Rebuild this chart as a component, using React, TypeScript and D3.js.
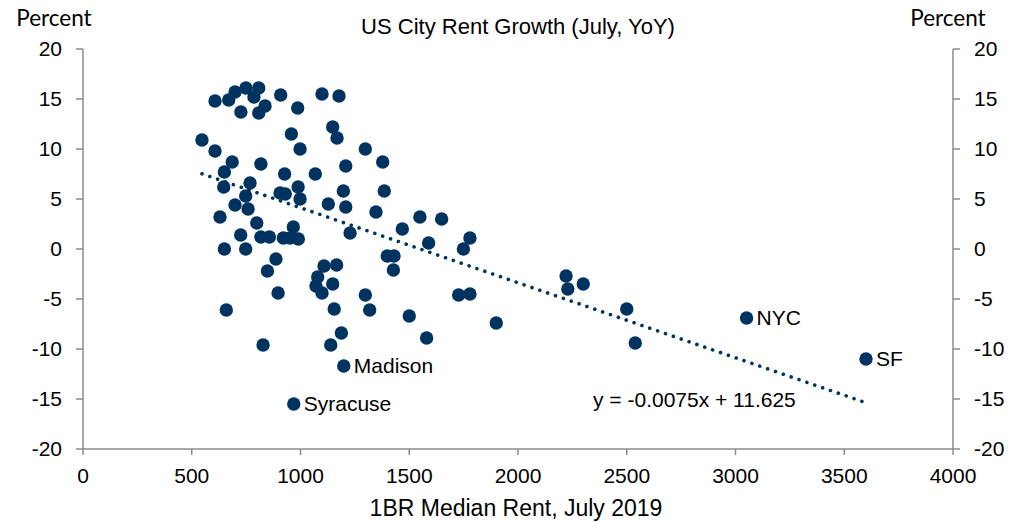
import React from 'react';
import * as d3 from 'd3';

// 1BR median rent (USD) and YoY rent growth (%) for each city
const rent = [
  547, 607, 607, 670, 699, 749, 808, 786, 837, 726,
  808, 909, 987, 1099, 1177, 958, 998, 1148, 1168, 1298,
  686, 818, 650, 927, 1068, 1208, 1378, 647, 768, 748,
  906, 930, 989, 998, 1197, 1385, 699, 759, 1128, 1208,
  1347, 630, 799, 725, 818, 857, 921, 952, 990, 967,
  1228, 1549, 1649, 1468, 1589, 1779, 1749, 650, 748, 887,
  848, 897, 1108, 1166, 1079, 1071, 1148, 1099, 1298, 1318,
  659, 1155, 1188, 1139, 828, 1399, 1430, 1427, 2221, 2229,
  2300, 1727, 1779, 1500, 1900, 1580, 2500, 2539,
];
const growth = [
  10.9, 14.8, 9.8, 14.9, 15.7, 16.1, 16.1, 15.2, 14.3, 13.7,
  13.6, 15.4, 14.1, 15.5, 15.3, 11.5, 10.0, 12.2, 11.1, 10.0,
  8.7, 8.5, 7.7, 7.5, 7.5, 8.3, 8.7, 6.2, 6.6, 5.3,
  5.6, 5.5, 6.2, 5.0, 5.8, 5.8, 4.4, 4.0, 4.5, 4.2,
  3.7, 3.2, 2.6, 1.4, 1.2, 1.2, 1.1, 1.1, 1.0, 2.2,
  1.6, 3.2, 3.0, 2.0, 0.6, 1.1, 0.0, 0.0, 0.0, -1.0,
  -2.2, -4.4, -1.7, -1.6, -2.8, -3.7, -3.5, -4.4, -4.6, -6.1,
  -6.1, -6.0, -8.4, -9.6, -9.6, -0.7, -0.7, -2.1, -2.7, -4.0,
  -3.5, -4.6, -4.5, -6.7, -7.4, -8.9, -6.0, -9.4,
];

// named cities
const labelNames = ['Madison', 'Syracuse', 'NYC', 'SF'];
const labelRent = [1199, 969, 3051, 3600];
const labelGrowth = [-11.7, -15.5, -6.9, -11.0];

// linear trendline from the chart
const slope = -0.0075;
const intercept = 11.625;

const xTicks = [0, 500, 1000, 1500, 2000, 2500, 3000, 3500, 4000];
const yTicks = [-20, -15, -10, -5, 0, 5, 10, 15, 20];

const width = 1016;
const height = 522;
const navy = '#00335f';
const grey = '#8c8c8c';
const arial = 'Liberation Sans, Arial, sans-serif';
const calibri = 'Lato, sans-serif';

export default function App() {
  const x = d3.scaleLinear().domain([0, 4000]).range([83, 953]);
  const y = d3.scaleLinear().domain([-20, 20]).range([449, 49]);

  const allRent = rent.concat(labelRent);
  const [x0, x1] = d3.extent(allRent) as [number, number];
  const trend = d3
    .line<number>()
    .x(d => x(d))
    .y(d => y(slope * d + intercept))([x0, x1]);

  const points = rent.map((r, i) => ({ r, g: growth[i] }));
  const named = labelNames.map((name, i) => ({ name, r: labelRent[i], g: labelGrowth[i] }));

  return (
    <div style={{ position: 'absolute', left: 0, top: 0 }}>
      <svg width={width} height={height} style={{ display: 'block', background: '#fff' }}>
        <text x={518} y={34} textAnchor="middle" fontFamily={arial} fontSize={22} fill="#000">
          US City Rent Growth (July, YoY)
        </text>
        <text x={54} y={26} textAnchor="middle" fontFamily={calibri} fontSize={22.5} fill="#000">
          Percent
        </text>
        <text x={948} y={26} textAnchor="middle" fontFamily={calibri} fontSize={22.5} fill="#000">
          Percent
        </text>

        {/* axes */}
        <g stroke={grey} strokeWidth={1.5} fill="none">
          <line x1={x(0)} x2={x(0)} y1={y(20)} y2={y(-20)} />
          <line x1={x(4000)} x2={x(4000)} y1={y(20)} y2={y(-20)} />
          <line x1={x(0)} x2={x(4000)} y1={y(-20)} y2={y(-20)} />
          {yTicks.map(t => (
            <g key={'yt' + t}>
              <line x1={x(0) - 7} x2={x(0)} y1={y(t)} y2={y(t)} />
              <line x1={x(4000)} x2={x(4000) + 7} y1={y(t)} y2={y(t)} />
            </g>
          ))}
          {xTicks.map(t => (
            <line key={'xt' + t} x1={x(t)} x2={x(t)} y1={y(-20)} y2={y(-20) + 6} />
          ))}
        </g>

        <g fontFamily={arial} fontSize={21} fill="#000">
          {yTicks.map(t => (
            <g key={'yl' + t}>
              <text x={62} y={y(t)} dy="0.35em" textAnchor="end">{t}</text>
              <text x={974} y={y(t)} dy="0.35em" textAnchor="start">{t}</text>
            </g>
          ))}
          {xTicks.map(t => (
            <text key={'xl' + t} x={x(t)} y={483} textAnchor="middle">{t}</text>
          ))}
          <text x={516} y={516} textAnchor="middle" fontSize={23}>1BR Median Rent, July 2019</text>
        </g>

        {/* scatter */}
        <g fill={navy}>
          {points.map((p, i) => (
            <circle key={i} cx={x(p.r)} cy={y(p.g)} r={6.7} />
          ))}
          {named.map(p => (
            <circle key={p.name} cx={x(p.r)} cy={y(p.g)} r={6.7} />
          ))}
        </g>

        <path
          d={trend ?? ''}
          fill="none"
          stroke={navy}
          strokeWidth={3.6}
          strokeLinecap="round"
          strokeDasharray="0.01 8.3"
        />

        <g fontFamily={arial} fontSize={21} fill="#000">
          {named.map(p => (
            <text key={'l' + p.name} x={x(p.r) + 10} y={y(p.g)} dy="0.35em">{p.name}</text>
          ))}
          <text x={x(2345)} y={y(-15.8)}>y = -0.0075x + 11.625</text>
        </g>
      </svg>
    </div>
  );
}
